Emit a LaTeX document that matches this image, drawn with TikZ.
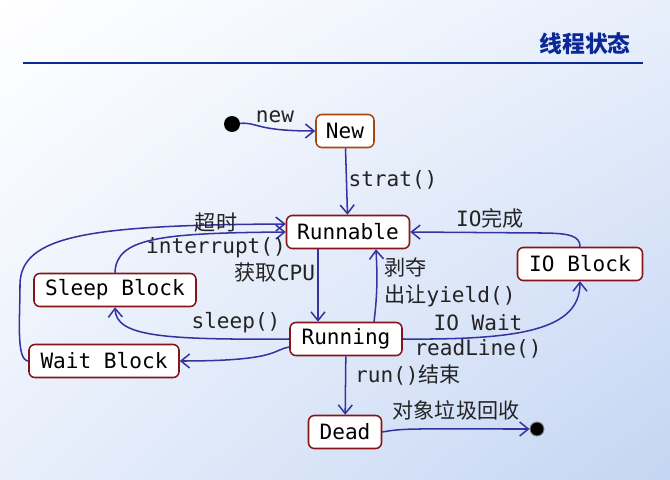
\documentclass[tikz,border=0pt]{standalone}
\usepackage{fontspec}
\setmainfont{DejaVu Sans Mono}
\newfontfamily\cjk{Noto Sans CJK SC}
\usepackage{tikz}
\usetikzlibrary{arrows.meta,positioning,calc,shadings}
\definecolor{slideBlue}{RGB}{10,40,150}
\definecolor{arrowBlue}{RGB}{52,52,160}
\definecolor{boxRed}{RGB}{135,20,25}
\definecolor{boxOrange}{RGB}{170,70,20}
\definecolor{labelGray}{RGB}{35,35,35}
\definecolor{bgCorner}{RGB}{196,213,243}
\definecolor{bgSide}{RGB}{232,239,251}
\tikzset{
  state node/.style={draw=boxRed,fill=white,rounded corners=5pt,line width=1.3pt,font=\fontsize{18}{21}\selectfont,minimum height=0.99cm,inner sep=2pt},
  state node orange/.style={state node,draw=boxOrange},
  trans arrow/.style={-{Straight Barb[length=2.6mm,width=4.2mm]},line width=1.3pt,draw=arrowBlue},
  trans label/.style={font=\fontsize{18}{21}\selectfont,text=labelGray,inner sep=1pt},
  pseudo state/.style={circle,fill=black,inner sep=0pt}
}

\begin{document}
\begin{tikzpicture}[x=0.03cm,y=-0.03cm]
  \shade[upper left=white,upper right=bgSide,lower left=bgSide,lower right=bgCorner] (0,0) rectangle (670,480);
  \useasboundingbox (0,0) rectangle (670,480);
  \node[font=\cjk\bfseries\fontsize{19.5}{22}\selectfont,text=slideBlue] (title) at (585,44) {线程状态};
  \draw[slideBlue,line width=2.4pt] (23,63) -- (643,63);

  \node[pseudo state,minimum size=0.48cm] (init) at (232,124) {};
  \node[state node orange,minimum width=1.74cm] (new) at (345,131) {New};
  \node[state node,minimum width=3.69cm] (runnable) at (348,232) {Runnable};
  \node[state node,minimum width=3.75cm] (ioblock) at (580,264) {IO Block};
  \node[state node,minimum width=4.86cm] (sleep) at (115,290) {Sleep Block};
  \node[state node,minimum width=4.5cm] (wait) at (104,361) {Wait Block};
  \node[state node,minimum width=3.36cm] (running) at (346,339) {Running};
  \node[state node,minimum width=2.19cm] (dead) at (345,432) {Dead};
  \node[pseudo state,draw=gray,line width=0.8pt,minimum size=0.42cm] (final) at (537,429) {};

  \draw[trans arrow] (init) .. controls (258,122) and (255,131) .. (new.west);
  \draw[trans arrow] (new) -- (runnable);
  \draw[trans arrow] ($(runnable.south)+(-30,0)$) -- ($(running.north)+(-28,0)$);
  \draw[trans arrow] ($(running.north)+(28,0)$) .. controls (378,290) and (377,270) .. ($(runnable.south)+(28,0)$);
  \draw[trans arrow] (ioblock.north) .. controls (580,236) and (570,233) .. (540,233) -- (runnable.east);
  \draw[trans arrow] (running.east) .. controls (520,340) and (580,330) .. (ioblock.south);
  \draw[trans arrow] (running.west) .. controls (160,340) and (116,336) .. (sleep.south);
  \draw[trans arrow] ($(running.west)+(0,8)$) .. controls (272,350) and (278,361) .. (wait.east);
  \draw[trans arrow] (sleep.north) .. controls (116,238) and (160,233) .. (runnable.west);
  \draw[trans arrow] (wait.west) .. controls (16,360) and (20,320) .. (20,285) .. controls (20,235) and (90,225) .. ($(runnable.west)+(0,-8)$);
  \draw[trans arrow] (running) -- (dead);
  \draw[trans arrow] (dead.east) .. controls (405,428) and (410,429) .. (final.west);

  \node[trans label] (lnew) at (275,117) {new};
  \node[trans label] (lstart) at (393,180) {strat()};
  \node[trans label] (ltimeout) at (216,222) {\cjk 超时};
  \node[trans label] (linterrupt) at (216,248) {interrupt()};
  \node[trans label] (lcpu) at (275,273) {{\cjk 获取}CPU};
  \node[trans label,anchor=west] (lpreempt) at (383,268) {\cjk 剥夺};
  \node[trans label,anchor=west] (lyield) at (383,296) {{\cjk 出让}yield()};
  \node[trans label] (lio) at (490,218) {IO{\cjk 完成}};
  \node[trans label] (lsleep) at (236,323) {sleep()};
  \node[trans label] (liowait) at (478,323) {IO Wait};
  \node[trans label] (lread) at (478,349) {readLine()};
  \node[trans label] (lend) at (408,375) {run(){\cjk 结束}};
  \node[trans label] (lgc) at (456,410) {\cjk 对象垃圾回收};
\end{tikzpicture}
\end{document}
